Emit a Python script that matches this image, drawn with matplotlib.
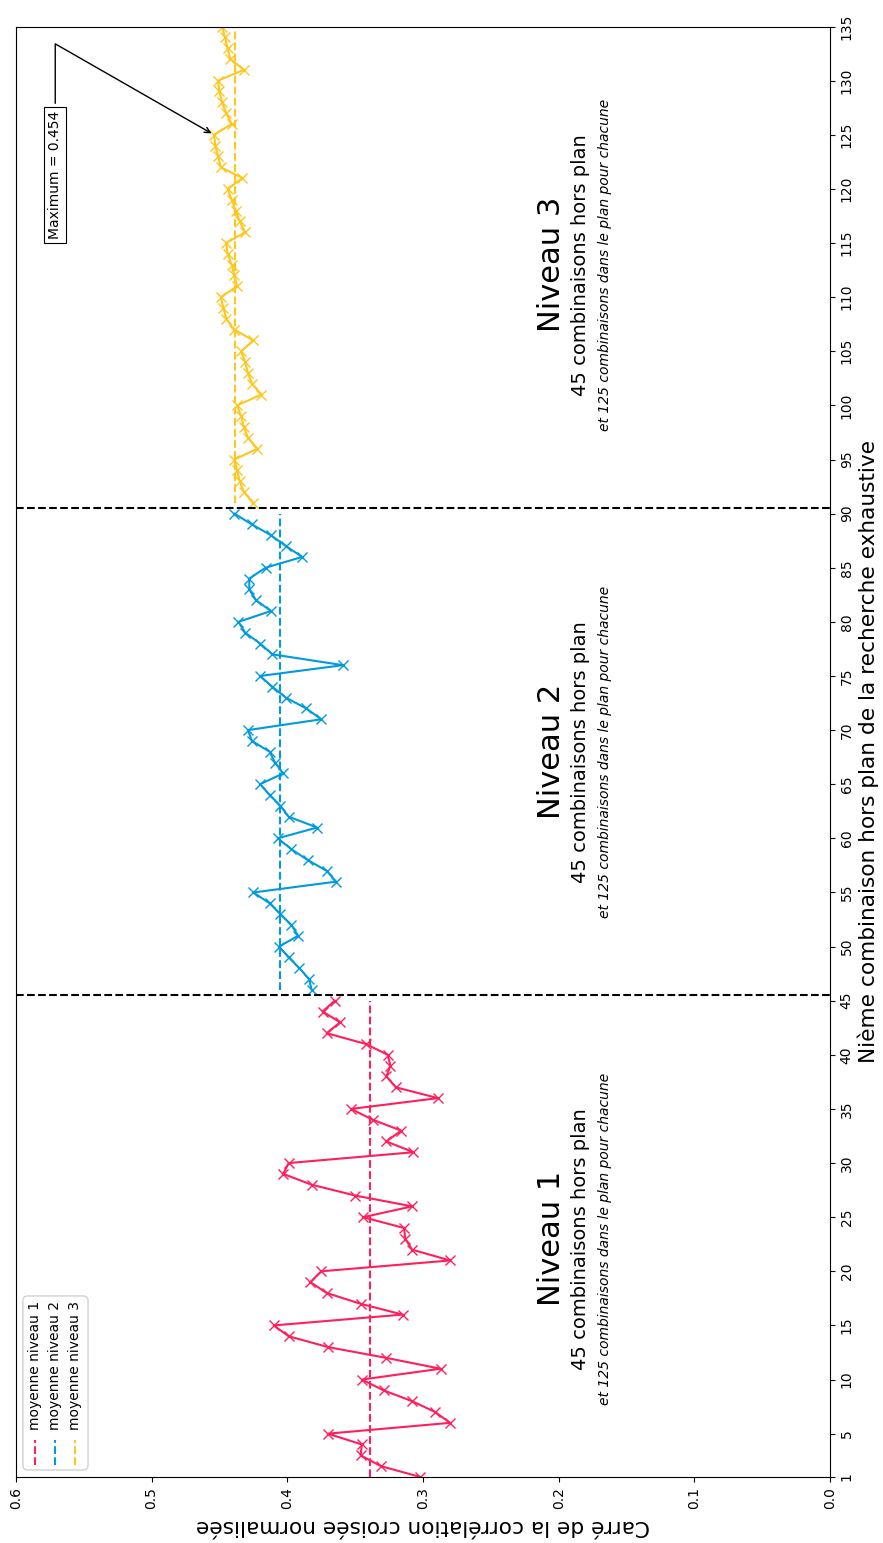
import numpy as np
import matplotlib
matplotlib.use("Agg")
import matplotlib.pyplot as plt
from matplotlib.patches import FancyBboxPatch
from matplotlib.lines import Line2D

# ---------------- data ----------------
idx1 = list(range(1, 46))
idx2 = list(range(46, 91))
idx3 = list(range(91, 136))

niveau1 = [0.302, 0.331, 0.346, 0.345, 0.370, 0.280, 0.291, 0.308, 0.329, 0.345,
           0.287, 0.327, 0.370, 0.399, 0.410, 0.315, 0.346, 0.371, 0.383, 0.375,
           0.280, 0.308, 0.313, 0.314, 0.344, 0.308, 0.350, 0.382, 0.403, 0.399,
           0.307, 0.327, 0.316, 0.337, 0.353, 0.289, 0.320, 0.327, 0.324, 0.326,
           0.342, 0.371, 0.361, 0.374, 0.365]
niveau2 = [0.382, 0.384, 0.391, 0.399, 0.406, 0.392, 0.397, 0.405, 0.413, 0.425,
           0.364, 0.371, 0.385, 0.397, 0.407, 0.378, 0.399, 0.405, 0.413, 0.420,
           0.403, 0.409, 0.413, 0.426, 0.429, 0.375, 0.386, 0.401, 0.411, 0.420,
           0.359, 0.411, 0.420, 0.431, 0.436, 0.412, 0.423, 0.428, 0.428, 0.416,
           0.389, 0.401, 0.412, 0.426, 0.439]
niveau3 = [0.425, 0.432, 0.435, 0.437, 0.439, 0.422, 0.429, 0.432, 0.434, 0.437,
           0.419, 0.426, 0.429, 0.431, 0.434, 0.425, 0.439, 0.445, 0.447, 0.449,
           0.437, 0.439, 0.441, 0.444, 0.445, 0.431, 0.435, 0.438, 0.441, 0.444,
           0.433, 0.449, 0.451, 0.453, 0.454, 0.441, 0.445, 0.448, 0.450, 0.451,
           0.432, 0.442, 0.444, 0.446, 0.448]

colors = ["#FF1F5B", "#009ADE", "#FFC61E"]
mean_labels = ["moyenne niveau 1", "moyenne niveau 2", "moyenne niveau 3"]
level_titles = ["Niveau 1", "Niveau 2", "Niveau 3"]
sub1 = "45 combinaisons hors plan"
sub2 = "et 125 combinaisons dans le plan pour chacune"
separators = [45.5, 90.5]
xticks_idx = [1] + list(range(5, 136, 5))
yticks_val = [0.0, 0.1, 0.2, 0.3, 0.4, 0.5, 0.6]
xlabel_txt = "Nième combinaison hors plan de la recherche exhaustive"
ylabel_txt = "Carré de la corrélation croisée normalisée"
max_idx = 125
max_val = 0.454

# ---------------- figure (rotated layout) ----------------
fig = plt.figure(figsize=(8.83, 15.43), dpi=100)
ax = fig.add_axes([0.018, 0.0428, 0.922, 0.940])

levels = [(idx1, niveau1), (idx2, niveau2), (idx3, niveau3)]
for (ix, vals), c in zip(levels, colors):
    ax.plot(vals, ix, color=c, marker="x", markersize=7, linewidth=1.5)
for (ix, vals), c in zip(levels, colors):
    m = np.mean(vals)
    ax.plot([m, m], [ix[0], ix[-1]], color=c, linestyle="--", linewidth=1.5)

for s in separators:
    ax.axhline(s, color="black", linestyle="--", linewidth=1.5)

ax.set_xlim(0.6, 0.0)
ax.set_ylim(1, 135)

ax.set_xticks(yticks_val)
ax.set_xticklabels([f"{v:.1f}" for v in yticks_val], rotation=90, fontsize=10)
ax.yaxis.tick_right()
ax.set_yticks(xticks_idx)
ax.set_yticklabels([str(v) for v in xticks_idx], rotation=90, fontsize=10, va="center")

ax.set_xlabel(ylabel_txt, fontsize=15.6, rotation=180, labelpad=5)
ax.yaxis.set_label_position("right")
ax.set_ylabel(xlabel_txt, fontsize=15.6, rotation=90, labelpad=3)

# level texts
for (ix, vals), title in zip(levels, level_titles):
    yc = (ix[0] + ix[-1]) / 2.0
    ax.text(0.205, yc, title, fontsize=22, rotation=90, ha="center", va="center")
    ax.text(0.184, yc, sub1, fontsize=14, rotation=90, ha="center", va="center")
    ax.text(0.166, yc, sub2, fontsize=10, rotation=90, ha="center", va="center",
            style="italic")

# annotation of maximum
ax.annotate(f"Maximum = {max_val}", xy=(max_val, max_idx), xytext=(0.571, 121.3),
            rotation=90, ha="center", va="center", fontsize=10,
            bbox=dict(boxstyle="square,pad=0.3", fc="white", ec="black", lw=0.8),
            arrowprops=dict(arrowstyle="->", color="black", lw=1,
                            connectionstyle="angle,angleA=90,angleB=150.2,rad=0"))

# manual rotated legend (bottom-left)
box = FancyBboxPatch((0.0086, 0.0048), 0.080, 0.120, transform=ax.transAxes,
                     boxstyle="round,pad=0,rounding_size=0.006",
                     fc="white", ec="#cccccc", lw=1, alpha=0.9, zorder=5,
                     mutation_aspect=814 / 1451)
ax.add_patch(box)
for k, (c, lab) in enumerate(zip(colors, mean_labels)):
    xe = 0.0233 + k * 0.0246
    ax.add_line(Line2D([xe, xe], [0.0085, 0.0255], transform=ax.transAxes,
                       color=c, linestyle="--", linewidth=1.5, zorder=6))
    ax.text(xe, 0.0325, lab, transform=ax.transAxes, rotation=90, fontsize=10,
            ha="center", va="bottom", zorder=6)

fig.savefig("out.png", dpi=100)
